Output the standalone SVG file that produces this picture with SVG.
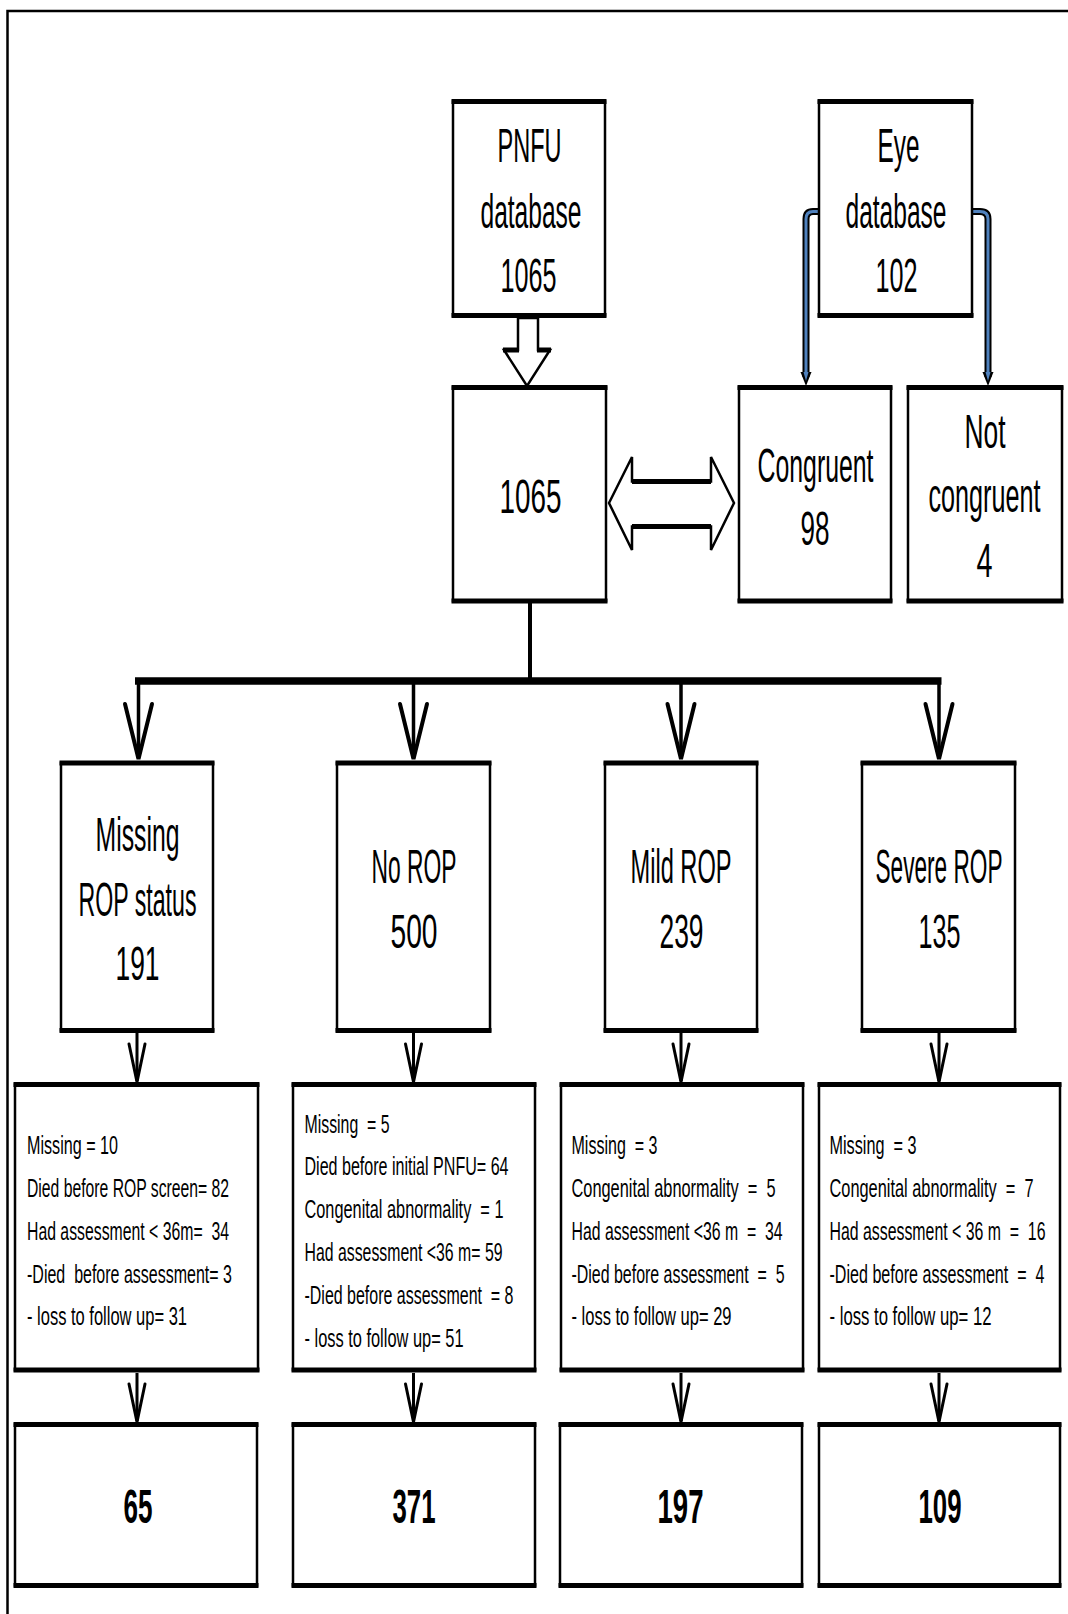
<svg xmlns="http://www.w3.org/2000/svg" xmlns:xlink="http://www.w3.org/1999/xlink" width="1068" height="1614" viewBox="0 0 1068 1614">
<style>
  .frame{fill:#fff;stroke:#000;stroke-width:2.5}
  .band{stroke:#000;stroke-width:5;fill:none}
  .t{font-family:"Liberation Sans",Arial,sans-serif;font-size:48px;text-anchor:middle;fill:#000}
  .s{font-family:"Liberation Sans",Arial,sans-serif;font-size:26px;fill:#000;white-space:pre}
  .b{font-family:"Liberation Sans",Arial,sans-serif;font-size:48px;font-weight:bold;text-anchor:middle;fill:#000}
  .ln{stroke:#000;fill:none}
  .ah{stroke:#000;fill:none;stroke-linecap:round;stroke-linejoin:miter}
  .blueo{stroke:#000;stroke-width:7;fill:none}
  .bluei{stroke:#4f81bd;stroke-width:3;fill:none}
</style>
<defs>
  <path id="ahBig" d="M-13.5,-55 L0,0 L13.5,-55" class="ah" stroke-width="4"/>
  <path id="ahSmall" d="M-8,-38 L0,0 L8,-38" class="ah" stroke-width="3"/>
</defs>
<rect width="1068" height="1614" fill="#fff"/>
<!-- outer frame (top and left) -->
<path d="M7.5,1614 V11 H1068" stroke="#000" stroke-width="2.5" fill="none"/>

<g id="connectors">
  <!-- hollow arrow PNFU -> 1065 -->
  <polygon points="518,318 538,318 538,350 550,350 527,386 504,350 518,350" fill="#fff" stroke="#000" stroke-width="2.5" stroke-linejoin="miter"/>
  <path d="M503,350 H519 M537,350 H551" class="band" stroke-width="3.5"/>
  <!-- double arrow -->
  <polygon points="609,503 632,457 632,481.5 711,481.5 711,457 734,503 711,550 711,526.5 632,526.5 632,550" fill="#fff" stroke="#000" stroke-width="2.5"/>
  <path d="M632,481.5 H711 M632,526.5 H711" class="band" stroke-width="4.5"/>
  <!-- blue connectors from Eye database -->
  <path d="M819,211.5 H813 Q806,211.5 806,219 V377" class="blueo"/>
  <path d="M819,211.5 H813 Q806,211.5 806,219 V377" class="bluei"/>
  <polygon points="800.5,372 811.5,372 806,386" fill="#000"/>
  <polygon points="803.5,372 808.5,372 806,381" fill="#4f81bd"/>
  <path d="M972,211.5 H980 Q988,211.5 988,219 V377" class="blueo"/>
  <path d="M972,211.5 H980 Q988,211.5 988,219 V377" class="bluei"/>
  <polygon points="982.5,372 993.5,372 988,386" fill="#000"/>
  <polygon points="985.5,372 990.5,372 988,381" fill="#4f81bd"/>
  <!-- tree from 1065 -->
  <path d="M530,603 V681" class="ln" stroke-width="4"/>
  <path d="M135,681 H941.5" class="ln" stroke-width="7.5"/>
  <path d="M138.5,681 V758 M413.5,681 V758 M681,681 V758 M939,681 V758" class="ln" stroke-width="3.5"/>
  <use xlink:href="#ahBig" x="138.5" y="759"/>
  <use xlink:href="#ahBig" x="413.5" y="759"/>
  <use xlink:href="#ahBig" x="681" y="759"/>
  <use xlink:href="#ahBig" x="939" y="759"/>
  <!-- row 2 -> row 3 -->
  <path d="M137,1033 V1081 M413.5,1033 V1081 M681,1033 V1081 M939,1033 V1081" class="ln" stroke-width="3"/>
  <use xlink:href="#ahSmall" x="137" y="1082"/>
  <use xlink:href="#ahSmall" x="413.5" y="1082"/>
  <use xlink:href="#ahSmall" x="681" y="1082"/>
  <use xlink:href="#ahSmall" x="939" y="1082"/>
  <!-- row 3 -> row 4 -->
  <path d="M137,1373 V1421 M413.5,1373 V1421 M681,1373 V1421 M939,1373 V1421" class="ln" stroke-width="3"/>
  <use xlink:href="#ahSmall" x="137" y="1422"/>
  <use xlink:href="#ahSmall" x="413.5" y="1422"/>
  <use xlink:href="#ahSmall" x="681" y="1422"/>
  <use xlink:href="#ahSmall" x="939" y="1422"/>
</g>

<g id="pnfu">
  <rect class="frame" x="453" y="101.5" width="152" height="214"/>
  <path class="band" d="M451.5,101.5 H606.5 M451.5,315.5 H606.5"/>
  <text class="t" x="529.5" y="162" textLength="64" lengthAdjust="spacingAndGlyphs">PNFU</text>
  <text class="t" x="531" y="228" textLength="101" lengthAdjust="spacingAndGlyphs">database</text>
  <text class="t" x="528.5" y="292" textLength="56" lengthAdjust="spacingAndGlyphs">1065</text>
</g>

<g id="eye">
  <rect class="frame" x="819" y="101.5" width="153" height="214"/>
  <path class="band" d="M817.5,101.5 H973.5 M817.5,315.5 H973.5"/>
  <text class="t" x="898.5" y="162" textLength="42" lengthAdjust="spacingAndGlyphs">Eye</text>
  <text class="t" x="896" y="228" textLength="101" lengthAdjust="spacingAndGlyphs">database</text>
  <text class="t" x="896.5" y="292" textLength="42" lengthAdjust="spacingAndGlyphs">102</text>
</g>

<g id="merged">
  <rect class="frame" x="453" y="387.5" width="153" height="213.5"/>
  <path class="band" d="M451.5,387.5 H607.5 M451.5,601 H607.5"/>
  <text class="t" x="530.5" y="513" textLength="62" lengthAdjust="spacingAndGlyphs">1065</text>
</g>

<g id="congruent">
  <rect class="frame" x="739" y="387.5" width="152" height="213.5"/>
  <path class="band" d="M737.5,387.5 H892.5 M737.5,601 H892.5"/>
  <text class="t" x="815.5" y="482" textLength="116" lengthAdjust="spacingAndGlyphs">Congruent</text>
  <text class="t" x="815" y="545" textLength="29" lengthAdjust="spacingAndGlyphs">98</text>
</g>

<g id="notcongruent">
  <rect class="frame" x="908" y="387.5" width="154" height="213.5"/>
  <path class="band" d="M906.5,387.5 H1063.5 M906.5,601 H1063.5"/>
  <text class="t" x="985" y="448" textLength="41" lengthAdjust="spacingAndGlyphs">Not</text>
  <text class="t" x="984.5" y="512" textLength="112" lengthAdjust="spacingAndGlyphs">congruent</text>
  <text class="t" x="984.5" y="577" textLength="16" lengthAdjust="spacingAndGlyphs">4</text>
</g>

<g id="missingrop">
  <rect class="frame" x="61" y="763" width="152" height="267.5"/>
  <path class="band" d="M59.5,763 H214.5 M59.5,1030.5 H214.5"/>
  <text class="t" x="137.5" y="851" textLength="84" lengthAdjust="spacingAndGlyphs">Missing</text>
  <text class="t" x="137.5" y="916" textLength="118" lengthAdjust="spacingAndGlyphs">ROP status</text>
  <text class="t" x="137.5" y="980" textLength="44" lengthAdjust="spacingAndGlyphs">191</text>
</g>

<g id="norop">
  <rect class="frame" x="337" y="763" width="153" height="267.5"/>
  <path class="band" d="M335.5,763 H491.5 M335.5,1030.5 H491.5"/>
  <text class="t" x="414" y="883" textLength="85" lengthAdjust="spacingAndGlyphs">No ROP</text>
  <text class="t" x="414" y="948" textLength="47" lengthAdjust="spacingAndGlyphs">500</text>
</g>

<g id="mildrop">
  <rect class="frame" x="605" y="763" width="152" height="267.5"/>
  <path class="band" d="M603.5,763 H758.5 M603.5,1030.5 H758.5"/>
  <text class="t" x="681" y="883" textLength="101" lengthAdjust="spacingAndGlyphs">Mild ROP</text>
  <text class="t" x="681.5" y="948" textLength="44" lengthAdjust="spacingAndGlyphs">239</text>
</g>

<g id="severerop">
  <rect class="frame" x="862" y="763" width="153" height="267.5"/>
  <path class="band" d="M860.5,763 H1016.5 M860.5,1030.5 H1016.5"/>
  <text class="t" x="939" y="883" textLength="127" lengthAdjust="spacingAndGlyphs">Severe ROP</text>
  <text class="t" x="939.5" y="948" textLength="42" lengthAdjust="spacingAndGlyphs">135</text>
</g>

<g id="detail1">
  <rect class="frame" x="15" y="1084.5" width="243" height="285.5"/>
  <path class="band" d="M13.5,1084.5 H259.5 M13.5,1370 H259.5"/>
  <text class="s" x="27" y="1154" textLength="91" lengthAdjust="spacingAndGlyphs">Missing = 10</text>
  <text class="s" x="27" y="1197" textLength="202" lengthAdjust="spacingAndGlyphs">Died before ROP screen= 82</text>
  <text class="s" x="27" y="1240" textLength="202" lengthAdjust="spacingAndGlyphs">Had assessment &lt; 36m=  34</text>
  <text class="s" x="27" y="1283" textLength="205" lengthAdjust="spacingAndGlyphs">-Died  before assessment= 3</text>
  <text class="s" x="27" y="1325" textLength="160" lengthAdjust="spacingAndGlyphs">- loss to follow up= 31</text>
</g>

<g id="detail2">
  <rect class="frame" x="293" y="1084.5" width="242" height="285.5"/>
  <path class="band" d="M291.5,1084.5 H536.5 M291.5,1370 H536.5"/>
  <text class="s" x="304.5" y="1133" textLength="85" lengthAdjust="spacingAndGlyphs">Missing  = 5</text>
  <text class="s" x="304.5" y="1175" textLength="204" lengthAdjust="spacingAndGlyphs">Died before initial PNFU= 64</text>
  <text class="s" x="304.5" y="1218" textLength="199" lengthAdjust="spacingAndGlyphs">Congenital abnormality  = 1</text>
  <text class="s" x="304.5" y="1261" textLength="198" lengthAdjust="spacingAndGlyphs">Had assessment &lt;36 m= 59</text>
  <text class="s" x="304.5" y="1304" textLength="209" lengthAdjust="spacingAndGlyphs">-Died before assessment  = 8</text>
  <text class="s" x="304.5" y="1347" textLength="159" lengthAdjust="spacingAndGlyphs">- loss to follow up= 51</text>
</g>

<g id="detail3">
  <rect class="frame" x="561" y="1084.5" width="242" height="285.5"/>
  <path class="band" d="M559.5,1084.5 H804.5 M559.5,1370 H804.5"/>
  <text class="s" x="571.5" y="1154" textLength="86" lengthAdjust="spacingAndGlyphs">Missing  = 3</text>
  <text class="s" x="571.5" y="1197" textLength="204" lengthAdjust="spacingAndGlyphs">Congenital abnormality  =  5</text>
  <text class="s" x="571.5" y="1240" textLength="211" lengthAdjust="spacingAndGlyphs">Had assessment &lt;36 m  =  34</text>
  <text class="s" x="571.5" y="1283" textLength="213" lengthAdjust="spacingAndGlyphs">-Died before assessment  =  5</text>
  <text class="s" x="571.5" y="1325" textLength="160" lengthAdjust="spacingAndGlyphs">- loss to follow up= 29</text>
</g>

<g id="detail4">
  <rect class="frame" x="819" y="1084.5" width="241" height="285.5"/>
  <path class="band" d="M817.5,1084.5 H1061.5 M817.5,1370 H1061.5"/>
  <text class="s" x="829.5" y="1154" textLength="87" lengthAdjust="spacingAndGlyphs">Missing  = 3</text>
  <text class="s" x="829.5" y="1197" textLength="204" lengthAdjust="spacingAndGlyphs">Congenital abnormality  =  7</text>
  <text class="s" x="829.5" y="1240" textLength="216" lengthAdjust="spacingAndGlyphs">Had assessment &lt; 36 m  =  16</text>
  <text class="s" x="829.5" y="1283" textLength="215" lengthAdjust="spacingAndGlyphs">-Died before assessment  =  4</text>
  <text class="s" x="829.5" y="1325" textLength="162" lengthAdjust="spacingAndGlyphs">- loss to follow up= 12</text>
</g>

<g id="final1">
  <rect class="frame" x="15" y="1424.5" width="242" height="161"/>
  <path class="band" d="M13.5,1424.5 H258.5 M13.5,1585.5 H258.5"/>
  <text class="b" x="138" y="1523" textLength="29" lengthAdjust="spacingAndGlyphs">65</text>
</g>

<g id="final2">
  <rect class="frame" x="293" y="1424.5" width="242" height="161"/>
  <path class="band" d="M291.5,1424.5 H536.5 M291.5,1585.5 H536.5"/>
  <text class="b" x="414" y="1523" textLength="43" lengthAdjust="spacingAndGlyphs">371</text>
</g>

<g id="final3">
  <rect class="frame" x="560" y="1424.5" width="242" height="161"/>
  <path class="band" d="M558.5,1424.5 H803.5 M558.5,1585.5 H803.5"/>
  <text class="b" x="680.5" y="1523" textLength="46" lengthAdjust="spacingAndGlyphs">197</text>
</g>

<g id="final4">
  <rect class="frame" x="819" y="1424.5" width="241" height="161"/>
  <path class="band" d="M817.5,1424.5 H1061.5 M817.5,1585.5 H1061.5"/>
  <text class="b" x="940" y="1523" textLength="43" lengthAdjust="spacingAndGlyphs">109</text>
</g>
</svg>
